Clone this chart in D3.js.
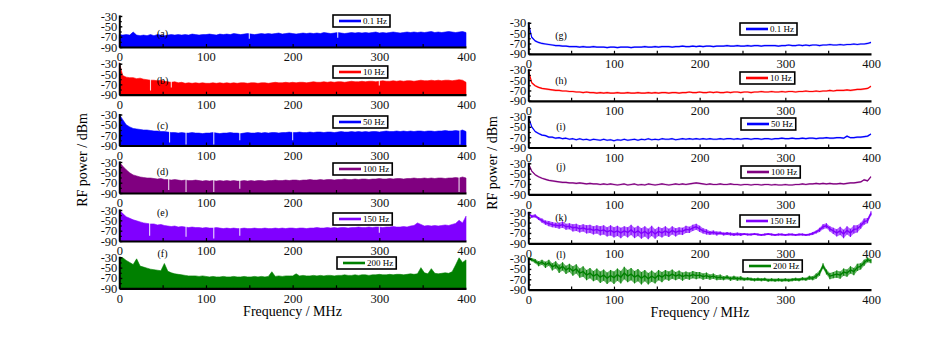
<!DOCTYPE html>
<html><head><meta charset="utf-8">
<script src="https://cdn.jsdelivr.net/npm/d3@7"></script>
<style>
body{margin:0;background:#fff}
svg text{font-family:"Liberation Serif","Times New Roman",serif}
</style>
</head><body>
<svg id="c" width="946" height="337"></svg>
<script>
// ---------------- DATA ----------------
const legendLabels = ["0.1 Hz","10 Hz","50 Hz","100 Hz","150 Hz","200 Hz"];
const leftLetters = ["(a)","(b)","(c)","(d)","(e)","(f)"];
const rightLetters = ["(g)","(h)","(i)","(j)","(k)","(l)"];
const xTicks = [0,100,200,300,400];
const yTicks = [-30,-50,-70,-90];
const freqMax = 400;

// left column: upper edge of dense spectra (dBm), sampled every 4 MHz, 0..400
const leftA = [-66,-67,-66,-67,-61,-67,-68,-67,-68,-66,-68,
 -66,-67,-68,-67,-66,-67,-66,-67,-66,-67,
 -65,-66,-67,-66,-66,-65,-66,-67,-65,-66,
 -65,-66,-64,-65,-66,-65,-64,-65,-66,-65,
 -64,-65,-64,-65,-64,-63,-65,-64,-63,-64,
 -65,-64,-63,-64,-63,-64,-63,-64,-62,-63,
 -64,-63,-62,-63,-64,-63,-62,-63,-62,-63,
 -62,-63,-62,-61,-63,-62,-63,-62,-61,-62,
 -63,-62,-61,-62,-61,-62,-61,-62,-61,-60,
 -62,-61,-62,-61,-60,-61,-62,-61,-60,-62];
const leftB = [-28,-53,-56,-57,-57,-59,-58,-60,-61,-62,-62,
 -63,-62,-64,-65,-66,-65,-67,-66,-68,-67,
 -68,-67,-68,-67,-68,-68,-67,-68,-67,-68,
 -67,-68,-67,-68,-67,-67,-68,-67,-67,-68,
 -67,-67,-68,-67,-66,-67,-67,-66,-67,-66,
 -67,-66,-66,-67,-66,-65,-66,-66,-65,-66,
 -65,-66,-65,-65,-66,-65,-64,-65,-65,-64,
 -65,-64,-64,-65,-64,-63,-64,-64,-63,-64,
 -63,-64,-63,-63,-64,-63,-62,-63,-63,-62,
 -63,-62,-63,-62,-62,-63,-62,-61,-62,-66];
const leftC = [-30,-40,-50,-54,-57,-58,-59,-60,-60,-61,-62,
 -62,-63,-63,-64,-65,-65,-66,-65,-66,-66,
 -65,-66,-66,-67,-66,-66,-65,-66,-67,-66,
 -66,-65,-66,-66,-67,-66,-65,-66,-66,-65,
 -66,-65,-66,-65,-65,-66,-65,-65,-64,-65,
 -65,-64,-65,-65,-64,-65,-64,-64,-65,-64,
 -64,-65,-64,-63,-64,-64,-63,-64,-63,-64,
 -63,-64,-63,-63,-64,-63,-62,-63,-63,-62,
 -63,-62,-63,-62,-63,-62,-62,-63,-62,-62,
 -63,-62,-62,-61,-62,-62,-61,-62,-60,-63];
const leftD = [-30,-38,-45,-51,-55,-57,-59,-60,-61,-61,-62,
 -63,-62,-64,-64,-65,-64,-65,-66,-65,-66,
 -66,-65,-66,-67,-66,-67,-66,-67,-66,-67,
 -66,-67,-66,-67,-67,-66,-67,-66,-67,-66,
 -66,-67,-66,-66,-65,-66,-66,-65,-66,-65,
 -65,-66,-65,-65,-64,-65,-65,-64,-65,-64,
 -64,-65,-64,-64,-63,-64,-64,-63,-64,-63,
 -63,-64,-63,-63,-62,-63,-63,-62,-63,-62,
 -62,-63,-62,-62,-61,-62,-62,-61,-62,-61,
 -62,-61,-61,-62,-61,-61,-60,-61,-59,-61];
const leftE = [-30,-37,-43,-46,-49,-51,-53,-55,-56,-57,-57,
 -59,-58,-60,-61,-62,-61,-63,-62,-63,-64,
 -63,-64,-64,-65,-64,-65,-65,-64,-65,-66,
 -65,-66,-65,-66,-66,-65,-66,-66,-65,-66,
 -66,-65,-66,-66,-65,-66,-65,-66,-65,-65,
 -66,-65,-65,-66,-65,-65,-64,-65,-65,-64,
 -65,-64,-65,-64,-64,-65,-64,-64,-63,-64,
 -64,-63,-64,-63,-63,-64,-63,-63,-62,-63,
 -63,-62,-63,-61,-60,-55,-58,-61,-60,-61,
 -60,-61,-60,-59,-60,-58,-56,-50,-55,-42];
const leftF = [-30,-31,-36,-40,-44,-33,-47,-49,-51,-53,-54,
 -55,-56,-42,-57,-60,-62,-63,-64,-65,-66,
 -66,-66,-67,-66,-67,-68,-67,-68,-68,-67,
 -68,-68,-67,-68,-68,-67,-68,-68,-67,-68,
 -67,-68,-67,-58,-67,-66,-67,-66,-66,-66,
 -62,-66,-65,-66,-66,-65,-66,-65,-66,-65,
 -65,-66,-65,-65,-64,-65,-65,-64,-65,-64,
 -64,-65,-64,-64,-63,-64,-64,-63,-64,-63,
 -63,-64,-63,-62,-63,-62,-50,-60,-62,-52,
 -61,-62,-61,-60,-61,-58,-45,-31,-40,-35];
// deep notches in the left spectra: [MHz, dBm]
const dipsA = [[150,-74],[252,-72]];
const dipsB = [[36,-82],[60,-76],[300,-72]];
const dipsC = [[58,-84],[77,-88],[109,-88],[139,-80],[200,-80],[393,-88]];
const dipsD = [[57,-84],[77,-88],[109,-88],[139,-82],[392,-88]];
const dipsE = [[35,-80],[77,-82],[109,-85],[139,-80],[300,-74]];
const dipsF = [];

// right column: trace (dBm) every 4 MHz, 0..400
const rightG = [-30,-58,-65,-68,-70,-71,-72,-73,-74,-74,-75,
 -75,-76,-76,-76,-77,-76,-77,-77,-76,-77,
 -77,-77,-78,-77,-77,-78,-77,-77,-77,-78,
 -77,-77,-77,-76,-77,-77,-76,-77,-76,-76,
 -76,-77,-76,-76,-75,-76,-76,-75,-76,-75,
 -76,-75,-75,-76,-75,-75,-75,-74,-75,-75,
 -74,-75,-75,-74,-75,-74,-74,-75,-74,-74,
 -74,-74,-75,-74,-74,-73,-74,-74,-73,-74,
 -73,-74,-73,-73,-74,-73,-73,-72,-73,-73,
 -72,-73,-72,-72,-71,-72,-71,-71,-70,-68];
const rightH = [-30,-55,-61,-64,-66,-67,-68,-69,-70,-70,-71,
 -71,-72,-72,-73,-73,-74,-73,-74,-74,-75,
 -74,-75,-74,-75,-75,-74,-75,-75,-74,-75,
 -75,-74,-75,-75,-74,-75,-74,-75,-74,-74,
 -75,-74,-74,-75,-74,-74,-73,-74,-74,-73,
 -74,-74,-73,-74,-73,-74,-74,-73,-74,-73,
 -73,-74,-73,-73,-74,-73,-73,-72,-73,-73,
 -72,-73,-73,-72,-73,-72,-72,-73,-72,-72,
 -71,-72,-72,-71,-72,-71,-71,-70,-71,-70,
 -70,-70,-69,-70,-69,-68,-68,-67,-66,-62];
const rightI = [-30,-50,-59,-63,-66,-67,-70,-70,-72,-71,-73,
 -72,-74,-73,-75,-73,-75,-74,-76,-74,-75,
 -76,-74,-76,-75,-77,-75,-76,-74,-76,-75,
 -74,-76,-74,-75,-73,-75,-74,-75,-73,-74,
 -74,-73,-75,-74,-73,-74,-73,-74,-73,-74,
 -73,-74,-73,-74,-74,-73,-74,-73,-73,-74,
 -73,-74,-73,-73,-74,-73,-73,-74,-73,-73,
 -74,-73,-73,-72,-73,-73,-72,-73,-73,-72,
 -73,-72,-72,-73,-72,-72,-71,-72,-72,-71,
 -71,-72,-68,-71,-71,-70,-70,-69,-68,-64];
const rightJ = [-30,-45,-52,-56,-59,-61,-63,-64,-65,-66,-67,
 -67,-68,-68,-69,-68,-69,-70,-69,-70,-70,
 -71,-70,-71,-70,-71,-72,-71,-70,-72,-71,
 -70,-72,-71,-72,-70,-71,-72,-71,-70,-71,
 -72,-71,-70,-71,-70,-71,-70,-69,-68,-69,
 -70,-71,-70,-71,-71,-70,-71,-71,-70,-71,
 -71,-72,-71,-71,-72,-71,-71,-72,-71,-71,
 -72,-71,-72,-72,-71,-72,-72,-71,-71,-70,
 -71,-70,-70,-69,-70,-69,-70,-69,-70,-70,
 -69,-70,-69,-68,-68,-67,-66,-62,-64,-56];
const rightK = [-32,-38,-37,-42,-46,-50,-52,-54,-55,-56,-54,
 -58,-57,-60,-59,-62,-60,-63,-62,-65,-63,
 -66,-64,-68,-65,-69,-66,-70,-66,-69,-64,
 -70,-66,-71,-67,-72,-66,-72,-67,-70,-66,
 -70,-65,-69,-66,-67,-63,-64,-60,-58,-62,
 -66,-68,-70,-69,-71,-70,-72,-71,-72,-73,
 -72,-73,-72,-73,-73,-72,-73,-74,-73,-72,
 -73,-74,-73,-73,-74,-73,-73,-74,-73,-73,
 -74,-73,-71,-68,-64,-58,-56,-62,-66,-70,
 -66,-72,-65,-70,-63,-62,-56,-48,-46,-32];
const spreadK = [2,3,3,3,4,4,5,5,5,6,6,
 6,6,7,7,7,7,8,8,8,8,
 9,9,9,10,10,10,10,9,10,10,
 10,10,10,10,10,10,9,9,9,9,
 8,8,8,7,7,7,6,6,6,6,
 5,5,4,4,4,3,3,3,3,3,
 3,3,2,2,2,2,2,2,2,2,
 2,2,2,2,2,2,2,2,2,2,
 2,2,3,3,4,5,5,5,6,7,
 8,8,8,8,8,7,6,6,5,4];
const rightL = [-30,-32,-35,-40,-37,-42,-38,-46,-42,-50,-45,
 -52,-48,-54,-50,-58,-55,-62,-58,-64,-60,
 -66,-62,-68,-63,-67,-61,-66,-58,-64,-60,
 -66,-62,-68,-63,-69,-64,-68,-62,-66,-61,
 -64,-60,-64,-61,-65,-62,-64,-61,-63,-62,
 -65,-63,-66,-64,-67,-66,-68,-66,-69,-67,
 -69,-68,-70,-69,-70,-71,-70,-71,-70,-72,
 -71,-72,-71,-72,-71,-72,-71,-70,-71,-69,
 -70,-67,-68,-64,-58,-44,-56,-64,-62,-60,
 -62,-56,-58,-52,-55,-47,-45,-38,-32,-35];
const spreadL = [2,3,4,5,5,6,6,7,7,8,8,
 8,8,9,9,9,10,10,10,10,11,
 11,11,11,11,12,12,12,12,12,12,
 12,12,12,11,11,11,10,10,10,9,
 9,9,8,8,8,7,7,7,7,6,
 6,6,5,5,5,5,4,4,4,4,
 4,4,3,3,3,3,3,3,3,3,
 3,3,3,3,3,3,3,3,3,3,
 3,4,4,5,5,5,5,6,6,7,
 7,7,7,7,7,7,6,6,5,4];

// ---------------- STYLE / LAYOUT ----------------
const seriesColors = ["#0000ff","#ff0000","#0000ff","#800080","#8000ff","#008000"];
const leftCol = {x0:119.3, x1:466, bottoms:[47,94.7,145.5,193,241,288.3],
  legends:[[333,15],[333,66],[333,116],[333,163],[333,213],[337,257]],
  letterX:162.5, letterY:[33,80,125,171.7,212.7,253]};
const rightCol = {x0:528.3, x1:871, bottoms:[53.8,100.8,147.5,194.3,243.3,289.6],
  legends:[[740,23],[740,72],[741,118],[741,166],[740,215],[743,260]],
  letterX:561, letterY:[35,80,126.7,166.7,217,254]};
const H60 = 31; // px for 60 dB

const svg = d3.select("#c");
const leftSeries = [leftA,leftB,leftC,leftD,leftE,leftF];
const leftDips = [dipsA,dipsB,dipsC,dipsD,dipsE,dipsF];
const rightSeries = [rightG,rightH,rightI,rightJ,rightK,rightL];
const rightSpread = [null,null,null,null,spreadK,spreadL];

function drawPanel(col, i, kind) {
  const bottom = col.bottoms[i];
  const x = d3.scaleLinear().domain([0, freqMax]).range([col.x0, col.x1]);
  const y = d3.scaleLinear().domain([-90, -28]).range([bottom, bottom - H60 * 62 / 60]);
  const g = svg.append("g");
  const color = seriesColors[i];
  const vals = kind === "left" ? leftSeries[i] : rightSeries[i];
  const fq = k => k * freqMax / (vals.length - 1);
  const fx = (d, k) => x(fq(k));

  if (kind === "left") {
    g.append("path").datum(vals)
      .attr("d", d3.area().x(fx).y0(y(-90)).y1(d => y(d)))
      .attr("fill", color).attr("stroke", color).attr("stroke-width", 0.6);
    g.selectAll("line.dip").data(leftDips[i]).join("line")
      .attr("x1", d => x(d[0])).attr("x2", d => x(d[0]))
      .attr("y1", y(-50)).attr("y2", d => y(d[1]))
      .attr("stroke", "#fff").attr("stroke-width", 1.1).attr("opacity", 0.85);
  } else {
    const sp = rightSpread[i];
    const lo = (d, k) => y(Math.max(-90, d - sp[k]));
    const hi = (d, k) => y(Math.min(-28, d + sp[k]));
    if (sp) {
      g.append("path").datum(vals)
        .attr("d", d3.area().x(fx).y0(lo).y1(hi))
        .attr("fill", color).attr("opacity", 0.6);
      g.selectAll("line.rng").data(vals).join("line")
        .attr("x1", fx).attr("x2", fx).attr("y1", lo).attr("y2", hi)
        .attr("stroke", color).attr("stroke-width", 1.1).attr("opacity", 0.9);
    } else {
      g.append("path").datum(vals)
        .attr("d", d3.area().x(fx).y0(d => y(d) + 1).y1(d => y(d) - 1))
        .attr("fill", color).attr("opacity", 0.3);
    }
    g.append("path").datum(vals)
      .attr("d", d3.line().x(fx).y(d => y(d)))
      .attr("fill", "none").attr("stroke", color)
      .attr("stroke-width", sp ? 1.4 : 1.2).attr("stroke-linejoin", "round");
  }

  // axes
  const xa = g.append("g").attr("transform", `translate(0,${bottom})`)
    .call(d3.axisBottom(x).tickValues(xTicks).tickSize(0).tickPadding(5.5).tickFormat(d => String(d)));
  xa.select(".domain").attr("stroke", "#000").attr("stroke-width", 2.2);
  xa.selectAll("text").attr("font-size", 12.5).attr("fill", "#111");
  g.append("g").attr("transform", `translate(0,${bottom})`)
    .call(d3.axisBottom(x).tickValues([50,100,150,200,250,300,350]).tickSize(-3).tickFormat(""))
    .call(s => s.select(".domain").remove())
    .selectAll("line").attr("stroke", "#000").attr("stroke-width", 1.2);

  const ya = g.append("g").attr("transform", `translate(${col.x0},0)`)
    .call(d3.axisLeft(y).tickValues(yTicks).tickSize(-3).tickSizeOuter(0).tickPadding(2).tickFormat(d => String(d)));
  ya.select(".domain").attr("stroke", "#000").attr("stroke-width", 2);
  ya.selectAll("line").attr("stroke", "#000").attr("stroke-width", 1.4);
  ya.selectAll("text").attr("font-size", 12.5).attr("fill", "#111");
  g.append("g").attr("transform", `translate(${col.x0},0)`)
    .call(d3.axisLeft(y).tickValues([-40,-60,-80]).tickSize(-2.5).tickFormat(""))
    .call(s => s.select(".domain").remove())
    .selectAll("line").attr("stroke", "#000").attr("stroke-width", 1.2);

  // panel letter
  const letters = kind === "left" ? leftLetters : rightLetters;
  g.append("text").attr("x", col.letterX).attr("y", col.letterY[i] + 3.5)
    .attr("text-anchor", "middle").attr("font-size", 10).text(letters[i]);

  // legend
  const [bx, by] = col.legends[i];
  const lg = g.append("g");
  const rect = lg.append("rect").attr("x", bx).attr("y", by).attr("height", 12)
    .attr("fill", "#fff").attr("stroke", "#000").attr("stroke-width", 1.6);
  lg.append("line").attr("x1", bx + 6).attr("x2", bx + 28).attr("y1", by + 6).attr("y2", by + 6)
    .attr("stroke", color).attr("stroke-width", 2.6);
  const t = lg.append("text").attr("x", bx + 30).attr("y", by + 9.2)
    .attr("font-size", 9).text(legendLabels[i]);
  rect.attr("width", 30 + t.node().getComputedTextLength() + 3);
}

for (let i = 0; i < 6; i++) { drawPanel(leftCol, i, "left"); drawPanel(rightCol, i, "right"); }

// axis titles
svg.append("text").attr("transform", "translate(87,160) rotate(-90)")
  .attr("text-anchor", "middle").attr("font-size", 14).text("RF power / dBm");
svg.append("text").attr("transform", "translate(497,163) rotate(-90)")
  .attr("text-anchor", "middle").attr("font-size", 14).text("RF power / dBm");
svg.append("text").attr("x", 292.5).attr("y", 316).attr("text-anchor", "middle")
  .attr("font-size", 14).text("Frequency / MHz");
svg.append("text").attr("x", 700).attr("y", 317).attr("text-anchor", "middle")
  .attr("font-size", 14).text("Frequency / MHz");
</script>
</body></html>
